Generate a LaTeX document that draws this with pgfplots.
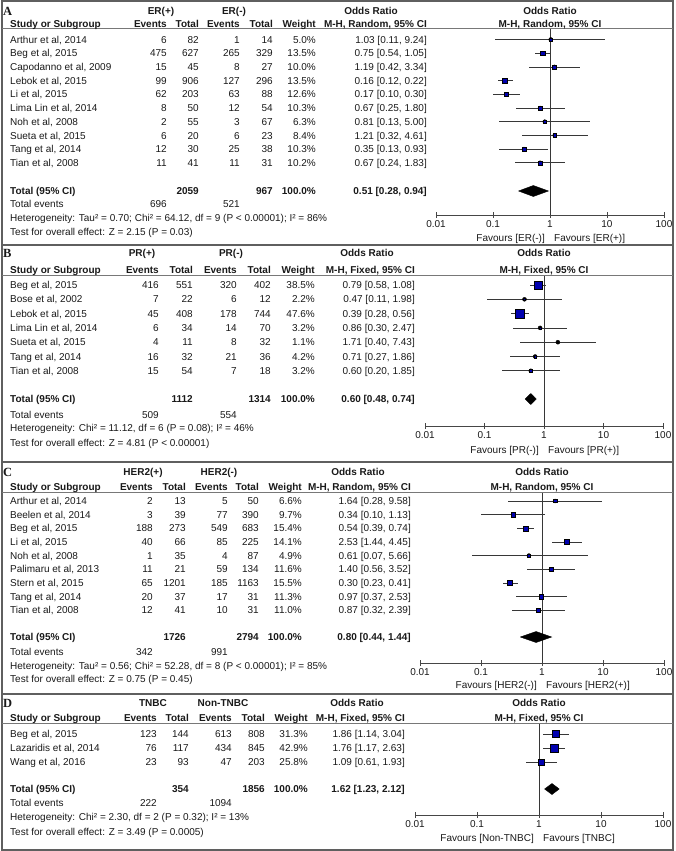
\documentclass[border=0pt]{standalone}
\usepackage{pgfplots}
\pgfplotsset{compat=1.18}
\usepackage{pgfplotstable}
\usepackage{fontspec}
\setmainfont{Liberation Sans}
\newfontfamily\seriffont{Liberation Serif}
\definecolor{sqblue}{RGB}{0,0,175}
\definecolor{frcol}{RGB}{95,95,95}
\definecolor{hdcol}{RGB}{120,120,120}
\definecolor{cicol}{RGB}{55,55,55}
\definecolor{axcol}{RGB}{70,70,70}
\definecolor{txcol}{RGB}{25,25,25}
\newcommand\tf{\fontsize{10}{12}\selectfont}

\pgfplotstableread{
or   lo   hi   w    y
1.03 0.11 9.24 5.0  -39.5
0.75 0.54 1.05 13.5 -53.2
1.19 0.42 3.34 10.0 -66.9
0.16 0.12 0.22 13.5 -80.6
0.17 0.10 0.30 12.6 -94.3
0.67 0.25 1.80 10.3 -108.0
0.81 0.13 5.00 6.3  -121.7
1.21 0.32 4.61 8.4  -135.4
0.35 0.13 0.93 10.3 -149.1
0.67 0.24 1.83 10.2 -162.8
}\dataA
\pgfplotstableread{
or   lo   hi   w    y
0.79 0.58 1.08 38.5 -285.0
0.47 0.11 1.98 2.2  -299.3
0.39 0.28 0.56 47.6 -313.6
0.86 0.30 2.47 3.2  -327.9
1.71 0.40 7.43 1.1  -342.2
0.71 0.27 1.86 4.2  -356.5
0.60 0.20 1.85 3.2  -370.8
}\dataB
\pgfplotstableread{
or   lo   hi   w    y
1.64 0.28 9.58 6.6  -501.0
0.34 0.10 1.13 9.7  -514.7
0.54 0.39 0.74 15.4 -528.3
2.53 1.44 4.45 14.1 -542.0
0.61 0.07 5.66 4.9  -555.6
1.40 0.56 3.52 11.6 -569.3
0.30 0.23 0.41 15.5 -582.9
0.97 0.37 2.53 11.3 -596.6
0.87 0.32 2.39 11.0 -610.2
}\dataC
\pgfplotstableread{
or   lo   hi   w    y
1.86 1.14 3.04 31.3 -734.0
1.76 1.17 2.63 42.9 -748.0
1.09 0.61 1.93 25.8 -762.0
}\dataD

\pgfplotsset{every axis/.append style={
    scale only axis, clip=false,
    axis x line*=bottom, axis y line=none,
    xtick={0.01,0.1,1,10,100}, xticklabels={0.01,0.1,1,10,100},
    xminorticks=false, tick align=center, major tick length=6pt,
    axis line style={draw=axcol, line width=0.9pt},
    every tick/.style={axcol, line width=0.9pt},
    xticklabel style={font=\tf, text=txcol, inner sep=0pt, anchor=north, yshift=-2pt}}}

\newcommand\ciplot[1]{%
  \addplot[only marks, mark=none, forget plot,
    error bars/x dir=both, error bars/x explicit, error bars/error mark=none,
    error bars/error bar style={draw=cicol, line width=0.8pt}]
    table[x=or, y=y, x error plus expr=\thisrow{hi}-\thisrow{or},
     x error minus expr=\thisrow{or}-\thisrow{lo}] {#1};
  \addplot[scatter, only marks, mark=square*, forget plot,
    scatter/use mapped color={draw=none, fill=sqblue},
    visualization depends on={0.65*sqrt(\thisrow{w}) \as \ms},
    scatter/@pre marker code/.append style={/tikz/mark size=\ms}]
    table[x=or, y=y] {#1};}

% text helpers (y measured downwards, at the text's vertical centre)
\newcommand\study[8]{%
  \node[anchor=base west] at (10,#1+3.6) {#2};
  \node[anchor=base east] at (\xEa,#1+3.6) {#3};
  \node[anchor=base east] at (\xTa,#1+3.6) {#4};
  \node[anchor=base east] at (\xEb,#1+3.6) {#5};
  \node[anchor=base east] at (\xTb,#1+3.6) {#6};
  \node[anchor=base east] at (\xW,#1+3.6) {#7};
  \node[anchor=base east] at (\xOR,#1+3.6) {#8};}
\newcommand\header[6]{% y1 y2 letter grp1 grp2 method
  \node[anchor=base west, font=\seriffont\bfseries\fontsize{12.5}{13}\selectfont] at (3,#1+4.3) {#3};
  \begin{scope}[every node/.append style={font=\tf\bfseries}]
  \node[anchor=base] at (\gA,#1+3.6) {#4};
  \node[anchor=base] at (\gB,#1+3.6) {#5};
  \node[anchor=base] at (\xORc,#1+3.6) {Odds Ratio};
  \node[anchor=base] at (\xP,#1+3.6) {Odds Ratio};
  \node[anchor=base west] at (10,#2+3.6) {Study or Subgroup};
  \node[anchor=base east] at (\xEa,#2+3.6) {Events};
  \node[anchor=base east] at (\xTa,#2+3.6) {Total};
  \node[anchor=base east] at (\xEb,#2+3.6) {Events};
  \node[anchor=base east] at (\xTb,#2+3.6) {Total};
  \node[anchor=base east] at (\xW,#2+3.6) {Weight};
  \node[anchor=base east] at (\xOR,#2+3.6) {#6};
  \node[anchor=base] at (\xP,#2+3.6) {#6};
  \end{scope}}
\newcommand\totals[4]{% y t1 t2 or
  \begin{scope}[every node/.append style={font=\tf\bfseries}]
  \node[anchor=base west] at (10,#1+3.6) {Total (95\% CI)};
  \node[anchor=base east] at (\xTa,#1+3.6) {#2};
  \node[anchor=base east] at (\xTb,#1+3.6) {#3};
  \node[anchor=base east] at (\xW,#1+3.6) {100.0\%};
  \node[anchor=base east] at (\xOR,#1+3.6) {#4};
  \end{scope}}
\newcommand\events[3]{%
  \node[anchor=base west] at (10,#1+3.6) {Total events};
  \node[anchor=base east] at (\xEa,#1+3.6) {#2};
  \node[anchor=base east] at (\xEb,#1+3.6) {#3};}
\newcommand\favours[3]{%
  \node[anchor=base east] at (\xP-5,#1+3.6) {Favours [#2]};
  \node[anchor=base west] at (\xP+4,#1+3.6) {Favours [#3]};}
\newcommand\txtline[2]{\node[anchor=base west] at (10,#1+3.6) {#2};}

\begin{document}
\begin{tikzpicture}
\path[use as bounding box] (0pt,0pt) rectangle (675pt,-851pt);

% A
\begin{axis}[xmode=log, xmin=0.01, xmax=100, anchor=south west, at={(436pt,-215pt)}, width=228pt, height=186pt, ymin=-215, ymax=-29]
\addplot[draw=cicol, line width=0.8pt] coordinates {(1,-29) (1,-215)};
\ciplot{\dataA}
\addplot[fill=black, draw=black] coordinates {(0.28,-191) (0.51,-185.5) (0.94,-191) (0.51,-196.5) (0.28,-191)};
\end{axis}
% B
\begin{axis}[xmode=log, xmin=0.01, xmax=100, anchor=south west, at={(425pt,-426pt)}, width=238pt, height=151pt, ymin=-426, ymax=-275]
\addplot[draw=cicol, line width=0.8pt] coordinates {(1,-275) (1,-426)};
\ciplot{\dataB}
\addplot[fill=black, draw=black] coordinates {(0.48,-399) (0.60,-393.5) (0.74,-399) (0.60,-404.5) (0.48,-399)};
\end{axis}
% C
\begin{axis}[xmode=log, xmin=0.01, xmax=100, anchor=south west, at={(420pt,-663pt)}, width=244pt, height=171pt, ymin=-663, ymax=-492]
\addplot[draw=cicol, line width=0.8pt] coordinates {(1,-492) (1,-663)};
\ciplot{\dataC}
\addplot[fill=black, draw=black] coordinates {(0.44,-637) (0.80,-631.5) (1.44,-637) (0.80,-642.5) (0.44,-637)};
\end{axis}
% D
\begin{axis}[xmode=log, xmin=0.01, xmax=100, anchor=south west, at={(415pt,-815pt)}, width=248pt, height=92pt, ymin=-815, ymax=-723]
\addplot[draw=cicol, line width=0.8pt] coordinates {(1,-723) (1,-815)};
\ciplot{\dataD}
\addplot[fill=black, draw=black] coordinates {(1.23,-789) (1.62,-783.5) (2.12,-789) (1.62,-794.5) (1.23,-789)};
\end{axis}

\begin{scope}[x=1pt, y=-1pt, every node/.style={inner sep=0pt, font=\tf, text=txcol}]
\draw[frcol, line width=2pt] (2,1) rectangle (673,850);
\draw[frcol, line width=2pt] (2,245) -- (673,245);
\draw[frcol, line width=2pt] (2,462) -- (673,462);
\draw[frcol, line width=2pt] (2,694) -- (673,694);
\foreach \h in {29,275,492,723} \draw[hdcol, line width=1pt] (2,\h) -- (673,\h);

% ---------- A ----------
\def\xEa{167}\def\xTa{199}\def\xEb{240}\def\xTb{273}\def\xW{316}\def\xOR{427}
\def\xORc{371}\def\xP{550}\def\gA{161}\def\gB{234}
\header{11}{24}{A}{ER(+)}{ER(-)}{M-H, Random, 95\% CI}
\study{39.5}{Arthur et al, 2014}{6}{82}{1}{14}{5.0\%}{1.03 [0.11, 9.24]}
\study{53.2}{Beg et al, 2015}{475}{627}{265}{329}{13.5\%}{0.75 [0.54, 1.05]}
\study{66.9}{Capodanno et al, 2009}{15}{45}{8}{27}{10.0\%}{1.19 [0.42, 3.34]}
\study{80.6}{Lebok et al, 2015}{99}{906}{127}{296}{13.5\%}{0.16 [0.12, 0.22]}
\study{94.3}{Li et al, 2015}{62}{203}{63}{88}{12.6\%}{0.17 [0.10, 0.30]}
\study{108.0}{Lima Lin et al, 2014}{8}{50}{12}{54}{10.3\%}{0.67 [0.25, 1.80]}
\study{121.7}{Noh et al, 2008}{2}{55}{3}{67}{6.3\%}{0.81 [0.13, 5.00]}
\study{135.4}{Sueta et al, 2015}{6}{20}{6}{23}{8.4\%}{1.21 [0.32, 4.61]}
\study{149.1}{Tang et al, 2014}{12}{30}{25}{38}{10.3\%}{0.35 [0.13, 0.93]}
\study{162.8}{Tian et al, 2008}{11}{41}{11}{31}{10.2\%}{0.67 [0.24, 1.83]}
\totals{191}{2059}{967}{0.51 [0.28, 0.94]}
\events{204}{696}{521}
\txtline{218}{Heterogeneity: Tau² = 0.70; Chi² = 64.12, df = 9 (P < 0.00001); I² = 86\%}
\txtline{232}{Test for overall effect: Z = 2.15 (P = 0.03)}
\favours{238}{ER(-)}{ER(+)}

% ---------- B ----------
\def\xEa{159}\def\xTa{193}\def\xEb{237}\def\xTb{271}\def\xW{315}\def\xOR{415}
\def\xORc{367}\def\xP{544}\def\gA{142}\def\gB{231}
\header{253}{270}{B}{PR(+)}{PR(-)}{M-H, Fixed, 95\% CI}
\study{285.0}{Beg et al, 2015}{416}{551}{320}{402}{38.5\%}{0.79 [0.58, 1.08]}
\study{299.3}{Bose et al, 2002}{7}{22}{6}{12}{2.2\%}{0.47 [0.11, 1.98]}
\study{313.6}{Lebok et al, 2015}{45}{408}{178}{744}{47.6\%}{0.39 [0.28, 0.56]}
\study{327.9}{Lima Lin et al, 2014}{6}{34}{14}{70}{3.2\%}{0.86 [0.30, 2.47]}
\study{342.2}{Sueta et al, 2015}{4}{11}{8}{32}{1.1\%}{1.71 [0.40, 7.43]}
\study{356.5}{Tang et al, 2014}{16}{32}{21}{36}{4.2\%}{0.71 [0.27, 1.86]}
\study{370.8}{Tian et al, 2008}{15}{54}{7}{18}{3.2\%}{0.60 [0.20, 1.85]}
\totals{399}{1112}{1314}{0.60 [0.48, 0.74]}
\events{415}{509}{554}
\txtline{428}{Heterogeneity: Chi² = 11.12, df = 6 (P = 0.08); I² = 46\%}
\txtline{443}{Test for overall effect: Z = 4.81 (P < 0.00001)}
\favours{450}{PR(-)}{PR(+)}

% ---------- C ----------
\def\xEa{153}\def\xTa{186}\def\xEb{228}\def\xTb{259}\def\xW{302}\def\xOR{411}
\def\xORc{358}\def\xP{542}\def\gA{143}\def\gB{219}
\header{472}{487}{C}{HER2(+)}{HER2(-)}{M-H, Random, 95\% CI}
\study{501.0}{Arthur et al, 2014}{2}{13}{5}{50}{6.6\%}{1.64 [0.28, 9.58]}
\study{514.7}{Beelen et al, 2014}{3}{39}{77}{390}{9.7\%}{0.34 [0.10, 1.13]}
\study{528.3}{Beg et al, 2015}{188}{273}{549}{683}{15.4\%}{0.54 [0.39, 0.74]}
\study{542.0}{Li et al, 2015}{40}{66}{85}{225}{14.1\%}{2.53 [1.44, 4.45]}
\study{555.6}{Noh et al, 2008}{1}{35}{4}{87}{4.9\%}{0.61 [0.07, 5.66]}
\study{569.3}{Palimaru et al, 2013}{11}{21}{59}{134}{11.6\%}{1.40 [0.56, 3.52]}
\study{582.9}{Stern et al, 2015}{65}{1201}{185}{1163}{15.5\%}{0.30 [0.23, 0.41]}
\study{596.6}{Tang et al, 2014}{20}{37}{17}{31}{11.3\%}{0.97 [0.37, 2.53]}
\study{610.2}{Tian et al, 2008}{12}{41}{10}{31}{11.0\%}{0.87 [0.32, 2.39]}
\totals{637}{1726}{2794}{0.80 [0.44, 1.44]}
\events{652}{342}{991}
\txtline{666}{Heterogeneity: Tau² = 0.56; Chi² = 52.28, df = 8 (P < 0.00001); I² = 85\%}
\txtline{679}{Test for overall effect: Z = 0.75 (P = 0.45)}
\favours{685}{HER2(-)}{HER2(+)}

% ---------- D ----------
\def\xEa{157}\def\xTa{189}\def\xEb{232}\def\xTb{265}\def\xW{308}\def\xOR{405}
\def\xORc{357}\def\xP{539}\def\gA{153}\def\gB{223}
\header{703}{718}{D}{TNBC}{Non-TNBC}{M-H, Fixed, 95\% CI}
\study{734}{Beg et al, 2015}{123}{144}{613}{808}{31.3\%}{1.86 [1.14, 3.04]}
\study{748}{Lazaridis et al, 2014}{76}{117}{434}{845}{42.9\%}{1.76 [1.17, 2.63]}
\study{762}{Wang et al, 2016}{23}{93}{47}{203}{25.8\%}{1.09 [0.61, 1.93]}
\totals{789}{354}{1856}{1.62 [1.23, 2.12]}
\events{803}{222}{1094}
\txtline{817}{Heterogeneity: Chi² = 2.30, df = 2 (P = 0.32); I² = 13\%}
\txtline{832}{Test for overall effect: Z = 3.49 (P = 0.0005)}
\favours{838}{Non-TNBC}{TNBC}
\end{scope}
\end{tikzpicture}
\end{document}
